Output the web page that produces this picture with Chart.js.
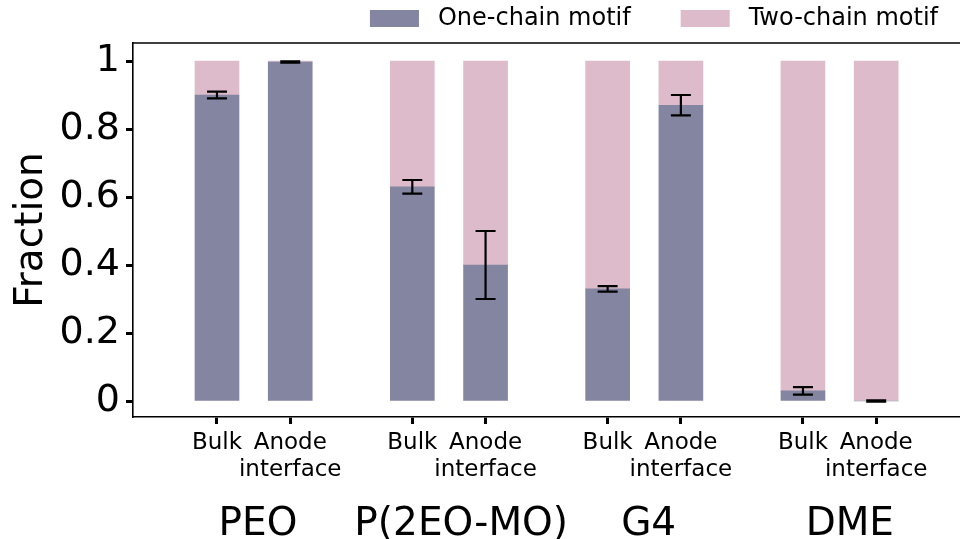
<!DOCTYPE html>
<html>
<head>
<meta charset="utf-8">
<script src="https://cdn.jsdelivr.net/npm/chart.js@4.4.0/dist/chart.umd.min.js"></script>
<style>
  html, body { margin: 0; padding: 0; background: #fff; }
</style>
</head>
<body>
<canvas id="myChart" width="960" height="539"></canvas>
<script>
Chart.defaults.font.family = "'DejaVu Sans', 'Liberation Sans', sans-serif";
Chart.defaults.color = '#000';

// data
var groups = ['PEO', 'P(2EO-MO)', 'G4', 'DME'];
var sites = ['Bulk', ['Anode', 'interface']];
var xPos = [0, 0.375, 1, 1.375, 2, 2.375, 3, 3.375];
var oneChain = [0.90, 0.997, 0.63, 0.40, 0.33, 0.87, 0.03, 0.0];
var oneChainErr = [0.01, 0.002, 0.02, 0.10, 0.008, 0.03, 0.011, 0.002];
var twoChain = [0.10, 0.003, 0.37, 0.60, 0.67, 0.13, 0.97, 1.0];
var yTicks = [0, 0.2, 0.4, 0.6, 0.8, 1];

// where the group names sit along x (matplotlib put them in one spaced xlabel)
var groupLabelX = [0.21, 1.25, 2.21, 3.24];

var oneColor = '#8385a1';
var twoColor = '#ddbbcb';

function toPoints(vals) {
    var pts = [];
    for (var i = 0; i < vals.length; i++) {
        pts.push({ x: xPos[i], y: vals[i] });
    }
    return pts;
}

function siteLabel(value) {
    for (var i = 0; i < xPos.length; i++) {
        if (Math.abs(xPos[i] - value) < 1e-6) return sites[i % 2];
    }
    return '';
}

var errorBars = {
    id: 'errorBars',
    afterDatasetsDraw: function (chart) {
        var ctx = chart.ctx;
        var xs = chart.scales.x;
        var ys = chart.scales.y;
        ctx.save();
        ctx.strokeStyle = '#000';
        ctx.lineWidth = 2.2;
        for (var i = 0; i < oneChain.length; i++) {
            var x = xs.getPixelForValue(xPos[i]);
            var yLo = ys.getPixelForValue(oneChain[i] - oneChainErr[i]);
            var yHi = ys.getPixelForValue(oneChain[i] + oneChainErr[i]);
            ctx.beginPath();
            ctx.moveTo(x, yLo);
            ctx.lineTo(x, yHi);
            ctx.moveTo(x - 10, yLo);
            ctx.lineTo(x + 10, yLo);
            ctx.moveTo(x - 10, yHi);
            ctx.lineTo(x + 10, yHi);
            ctx.stroke();
        }
        ctx.restore();
    }
};

var frameAndLabels = {
    id: 'frameAndLabels',
    afterDraw: function (chart) {
        var ctx = chart.ctx;
        var area = chart.chartArea;
        var xs = chart.scales.x;
        ctx.save();
        // top border of the axes box
        ctx.strokeStyle = '#000';
        ctx.lineWidth = 1.6;
        ctx.beginPath();
        ctx.moveTo(area.left, area.top);
        ctx.lineTo(area.right, area.top);
        ctx.stroke();

        // group names under the site labels
        ctx.fillStyle = '#000';
        ctx.font = "39px 'DejaVu Sans'";
        ctx.textAlign = 'center';
        ctx.textBaseline = 'middle';
        for (var g = 0; g < groups.length; g++) {
            ctx.fillText(groups[g], xs.getPixelForValue(groupLabelX[g]), area.bottom + 108);
        }

        // legend, right aligned at the top
        ctx.font = "24px 'DejaVu Sans'";
        ctx.textAlign = 'left';
        var items = chart.data.datasets;
        var right = 938;
        var widths = items.map(function (d) { return 49 + 19 + ctx.measureText(d.label).width; });
        var total = widths[0] + widths[1] + 50;
        var x = right - total;
        for (var k = 0; k < items.length; k++) {
            ctx.fillStyle = items[k].backgroundColor;
            ctx.fillRect(x, 10, 49, 17);
            ctx.fillStyle = '#000';
            ctx.fillText(items[k].label, x + 49 + 19, 19);
            x += widths[k] + 50;
        }
        ctx.restore();
    }
};

var ctx1 = document.getElementById('myChart').getContext('2d');
var myChart = new Chart(ctx1, {
    type: 'bar',
    data: {
        datasets: [{
            label: 'One-chain motif',
            data: toPoints(oneChain),
            backgroundColor: oneColor,
            barThickness: 44
        }, {
            label: 'Two-chain motif',
            data: toPoints(twoChain),
            backgroundColor: twoColor,
            barThickness: 44
        }]
    },
    options: {
        responsive: false,
        animation: false,
        layout: {
            padding: { top: 43, right: 0, left: 0, bottom: 0 }
        },
        plugins: {
            legend: { display: false },
            tooltip: { enabled: false }
        },
        scales: {
            x: {
                type: 'linear',
                stacked: true,
                offset: false,
                min: -0.43,
                max: 3.804,
                afterBuildTicks: function (scale) {
                    scale.ticks = xPos.map(function (v) { return { value: v }; });
                },
                afterFit: function (scale) {
                    scale.height = 122;
                },
                ticks: {
                    autoSkip: false,
                    maxRotation: 0,
                    padding: 5,
                    font: { size: 23, lineHeight: 1.2 },
                    color: '#000',
                    callback: function (value) {
                        return siteLabel(value);
                    }
                },
                grid: {
                    offset: false,
                    drawOnChartArea: false,
                    drawTicks: true,
                    tickLength: 7,
                    tickWidth: 3,
                    tickColor: '#000'
                },
                border: { display: true, color: '#000', width: 1.6 }
            },
            y: {
                stacked: true,
                min: -0.047,
                max: 1.053,
                afterBuildTicks: function (scale) {
                    scale.ticks = yTicks.map(function (v) { return { value: v }; });
                },
                afterFit: function (scale) {
                    scale.width = 133;
                },
                ticks: {
                    padding: 6,
                    font: { size: 38 },
                    color: '#000',
                    callback: function (value) {
                        return String(Math.round(value * 10) / 10);
                    }
                },
                title: {
                    display: true,
                    text: 'Fraction',
                    font: { size: 39 },
                    color: '#000',
                    padding: { top: 8, bottom: 0 }
                },
                grid: {
                    drawOnChartArea: false,
                    drawTicks: true,
                    tickLength: 7,
                    tickWidth: 3,
                    tickColor: '#000'
                },
                border: { display: true, color: '#000', width: 1.6 }
            }
        }
    },
    plugins: [errorBars, frameAndLabels]
});
</script>
</body>
</html>
